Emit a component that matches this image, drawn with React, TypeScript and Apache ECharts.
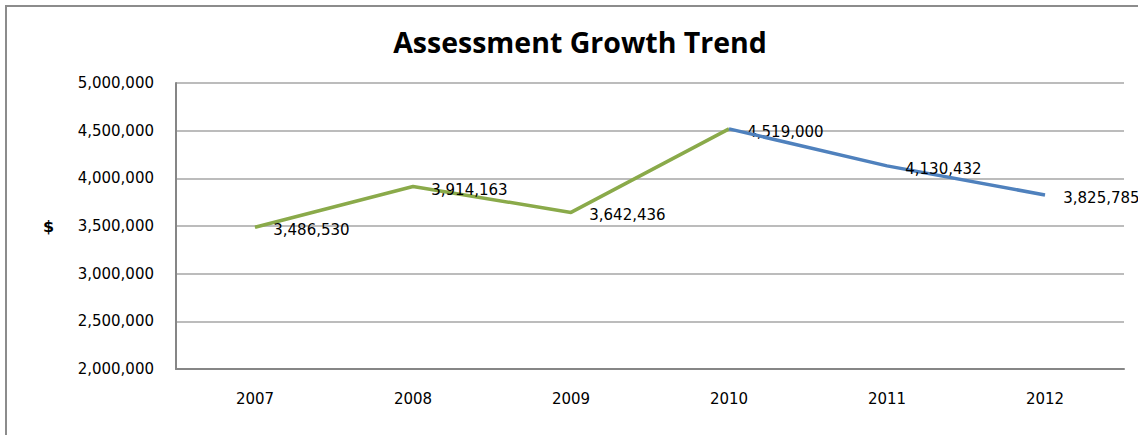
import React, { useEffect, useRef } from "react";
import * as echarts from "echarts";

const years = ["2007", "2008", "2009", "2010", "2011", "2012"];
const values = [3486530, 3914163, 3642436, 4519000, 4130432, 3825785];
const greenSeries = [values[0], values[1], values[2], values[3], null, null];
const blueSeries = [null, null, null, values[3], values[4], values[5]];

const fmt = (v: number) => v.toLocaleString("en-US");
const FONT = "'DejaVu Sans', sans-serif";
const TITLE_FONT = "'Open Sans', 'Noto Sans', sans-serif";

export default function App() {
  const ref = useRef<HTMLDivElement>(null);
  useEffect(() => {
    document.body.style.margin = "0";
    const chart = echarts.init(ref.current!, null, { renderer: "svg" });
    const labelCfg = {
      show: true,
      position: "right",
      distance: 18,
      offset: [0, 3],
      color: "#000",
      opacity: 1,
      fontSize: 15,
      fontFamily: FONT,
      formatter: (p: any) => fmt(p.value),
    };
    chart.setOption({
      animation: false,
      backgroundColor: "#fff",
      title: {
        text: "Assessment Growth Trend",
        left: 575,
        top: 22,
        textAlign: "center",
        textStyle: { fontSize: 28.5, fontWeight: "bold", fontFamily: TITLE_FONT, color: "#000" },
      },
      graphic: [
        {
          type: "rect",
          shape: { x: 6, y: 6, width: 1300, height: 600 },
          style: { fill: "none", stroke: "#8c8c8c", lineWidth: 2 },
          z: -1,
        },
        {
          type: "text",
          x: 43,
          y: 218,
          style: { text: "$", fontSize: 16, fontWeight: "bold", fontFamily: FONT, fill: "#000" },
        },
      ],
      grid: { left: 176, top: 83, width: 948, height: 286, containLabel: false },
      xAxis: {
        type: "category",
        data: years,
        boundaryGap: true,
        axisLine: { lineStyle: { color: "#868686", width: 2 } },
        axisTick: { show: false },
        axisLabel: { color: "#000", fontSize: 15, fontFamily: FONT, margin: 22 },
      },
      yAxis: {
        type: "value",
        min: 2000000,
        max: 5000000,
        interval: 500000,
        axisLine: { show: true, lineStyle: { color: "#868686", width: 2 } },
        axisTick: { show: false },
        splitLine: { lineStyle: { color: "#a6a6a6", width: 1.5 } },
        axisLabel: { color: "#000", fontSize: 15, fontFamily: FONT, margin: 22, formatter: (v: number) => fmt(v) },
      },
      series: [
        {
          type: "line",
          data: greenSeries,
          symbol: "circle",
          symbolSize: 0.5,
          showSymbol: true,
          itemStyle: { color: "#8AAA4A" },
          lineStyle: { color: "#8AAA4A", width: 3.5 },
          label: labelCfg,
          connectNulls: false,
          z: 2,
        },
        {
          type: "line",
          data: blueSeries.map((v, i) => (i === 3 ? { value: v, label: { show: false } } : v)),
          symbol: "circle",
          symbolSize: 0.5,
          showSymbol: true,
          itemStyle: { color: "#4F81BD" },
          lineStyle: { color: "#4F81BD", width: 3.5 },
          label: labelCfg,
          connectNulls: false,
          z: 3,
        },
      ],
    });
    return () => chart.dispose();
  }, []);
  return <div ref={ref} style={{ width: 1138, height: 435 }} />;
}
